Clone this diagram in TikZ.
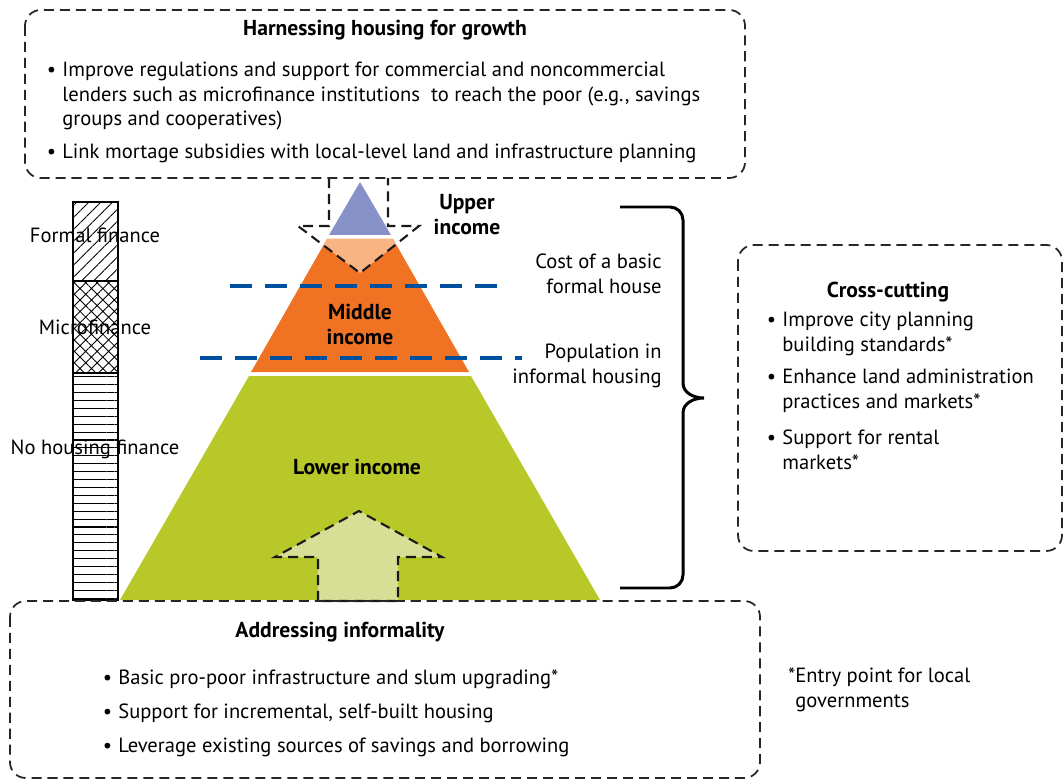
\documentclass[tikz,border=0pt]{standalone}
\usepackage{fontspec}
\setmainfont{PT Sans}
\usetikzlibrary{patterns.meta,calc}
\definecolor{upperblue}{RGB}{135,146,200}
\definecolor{peach}{RGB}{249,180,132}
\definecolor{midorange}{RGB}{240,115,35}
\definecolor{lowgreen}{RGB}{183,200,40}
\definecolor{arrowgreen}{RGB}{215,222,150}
\definecolor{cutblue}{RGB}{0,80,160}
\tikzstyle{dashbox}=[draw=black!85,line width=1pt,dash pattern=on 5.7pt off 3.4pt,rounded corners=9pt]
\tikzstyle{dasharrow}=[draw=black!90,line width=1.2pt,dash pattern=on 5.7pt off 3.4pt]
\tikzstyle{cutline}=[draw=cutblue,line width=2.3pt,dash pattern=on 12.5pt off 7.4pt]
\tikzstyle{heading}=[inner sep=0pt,font=\fontsize{12.3}{14.2}\selectfont\bfseries]
\tikzstyle{bulltext}=[inner sep=0pt,anchor=west,align=left]
\tikzstyle{sidetext}=[inner sep=0pt,align=right,anchor=east]
\tikzstyle{barlabel}=[inner sep=0pt]
\newcommand{\bul}{\llap{\textbullet\hspace{3.5pt}}}

\begin{document}
\begin{tikzpicture}[x=0.02cm,y=-0.02cm,font=\fontsize{11.7}{14.2}\selectfont]
    \useasboundingbox (0,0) rectangle (1064,780);

    % pyramid
    \fill[upperblue] (360,182) -- (391,235) -- (329,235) -- cycle;
    \fill[midorange] (327,239) -- (393,239) -- (469,372) -- (251,372) -- cycle;
    \begin{scope}
      \clip (327,239) -- (393,239) -- (469,372) -- (251,372) -- cycle;
      \fill[peach] (298,226) -- (419,226) -- (360,273) -- cycle;
    \end{scope}
    \fill[lowgreen] (249,376) -- (471,376) -- (600,600) -- (120,600) -- cycle;

    % finance bar
    \draw[line width=0.6pt,pattern={Lines[angle=45,distance=4.8pt,line width=0.5pt]}]
      (73,202) rectangle (118,281);
    \draw[line width=0.6pt,pattern={Hatch[angle=45,distance=4.6pt,line width=0.5pt]}]
      (73,281) rectangle (118,373);
    \draw[line width=0.6pt,pattern={Lines[angle=0,distance=4.5pt,line width=0.6pt]}]
      (73,373) rectangle (118,600);
    \node[barlabel] (formal) at (95,235) {Formal finance};
    \node[barlabel] (micro) at (95,327) {Microfinance};
    \node[barlabel] (nofin) at (95,449) {No housing finance};

    % arrows
    \draw[dasharrow] (329,178) -- (329,226) -- (298,226) -- (360,273)
      -- (419,226) -- (388,226) -- (388,178);
    \filldraw[dasharrow,fill=arrowgreen] (318,601) -- (318,557) -- (275,557)
      -- (359,511) -- (442,557) -- (398,557) -- (398,601) -- cycle;

    % cut-off lines
    \draw[cutline] (230,286) -- (500,286);
    \draw[cutline] (200,358) -- (522,358);

    \node[heading,align=center] (upper) at (467,215) {Upper\\income};
    \node[heading,align=center] (middle) at (360,324) {Middle\\income};
    \node[heading] (lower) at (357,467) {Lower income};
    \node[sidetext] (cost) at (662,274) {Cost of a basic\\formal house};
    \node[sidetext] (popinf) at (662,366) {Population in\\informal housing};

    % brace
    \draw[line width=1.7pt] (620,207) -- (670,207) to[out=0,in=90] (683,220)
      -- (683,383) to[out=-90,in=180] (704,398) to[out=180,in=90] (683,413)
      -- (683,575) to[out=-90,in=0] (670,588) -- (620,588);

    % boxes
    \draw[dashbox,fill=white] (25,10) rectangle (745,178);
    \node[heading] (growth) at (385,30) {Harnessing housing for growth};
    \node[bulltext] (g1) at (62,96) {\bul Improve regulations and support for commercial and noncommercial\\lenders such as microfinance institutions\ \ to reach the poor (e.g., savings\\groups and cooperatives)};
    \node[bulltext] (g2) at (62,153) {\bul Link mortage subsidies with local-level land and infrastructure planning};

    \draw[dashbox] (738,245) rectangle (1062,551);
    \node[heading] (cross) at (888,292) {Cross-cutting};
    \node[bulltext] (c1) at (782,334) {\bul Improve city planning\\building standards*};
    \node[bulltext] (c2) at (782,391) {\bul Enhance land administration\\practices and markets*};
    \node[bulltext] (c3) at (782,450) {\bul Support for rental\\markets*};

    \draw[dashbox] (10,601) rectangle (760,778);
    \node[heading] (informal) at (340,632) {Addressing informality};
    \node[bulltext] (i1) at (118,679) {\bul Basic pro-poor infrastructure and slum upgrading*};
    \node[bulltext] (i2) at (118,713) {\bul Support for incremental, self-built housing};
    \node[bulltext] (i3) at (118,747) {\bul Leverage existing sources of savings and borrowing};

    \node[bulltext] (entry) at (795,690) {\llap{*}Entry point for local\\governments};
\end{tikzpicture}
\end{document}
